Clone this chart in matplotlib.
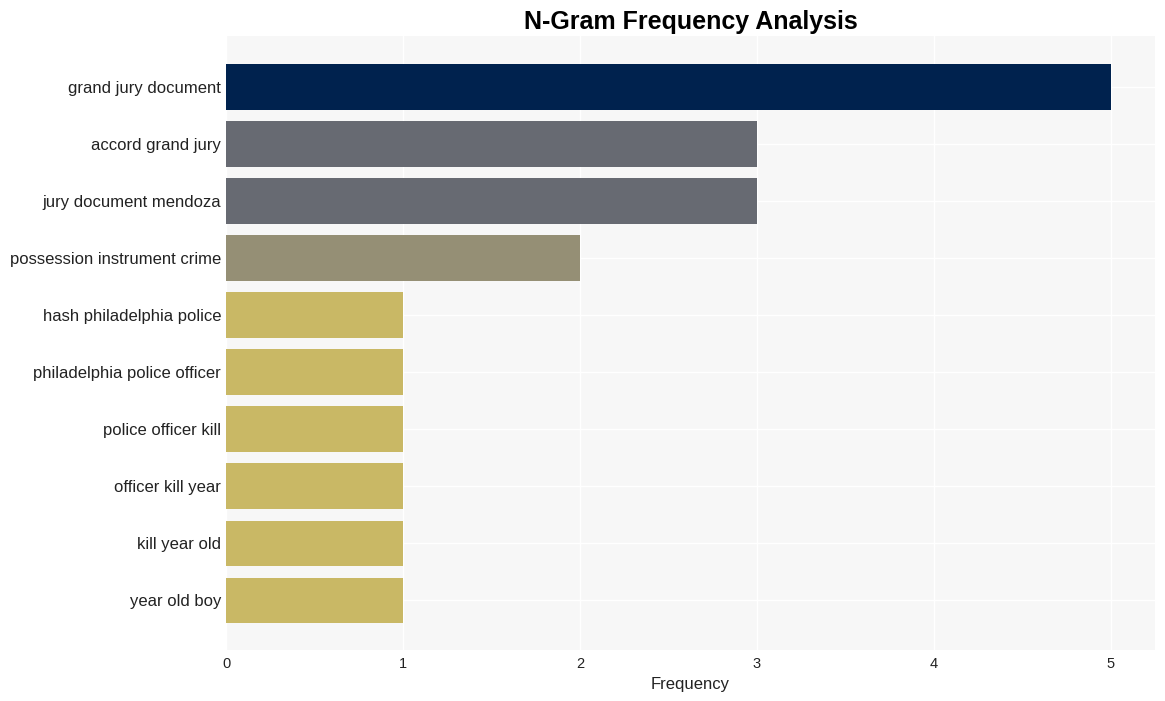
import matplotlib
matplotlib.use("Agg")
import matplotlib.pyplot as plt

ngrams = ["grand jury document", "accord grand jury", "jury document mendoza",
          "possession instrument crime", "hash philadelphia police",
          "philadelphia police officer", "police officer kill",
          "officer kill year", "kill year old", "year old boy"]
counts = [5, 3, 3, 2, 1, 1, 1, 1, 1, 1]
colors = ["#00224e", "#676a72", "#676a72", "#958f75", "#c9b865",
          "#c9b865", "#c9b865", "#c9b865", "#c9b865", "#c9b865"]

plt.rcParams['font.family'] = ['Liberation Sans', 'DejaVu Sans']

fig = plt.figure(figsize=(11.65, 7.01), dpi=100)
ax = fig.add_axes([0.194, 0.0727, 0.7974, 0.8759])
ax.set_facecolor("#f7f7f7")
ax.set_axisbelow(True)
ax.grid(True, color="white", linewidth=1)

y = list(range(len(ngrams)))
ax.barh(y, counts, height=0.8, color=colors)
ax.set_yticks(y)
ax.set_yticklabels(ngrams, fontsize=12, color="#222222")
ax.set_ylim(9.87, -0.89)
ax.set_xlim(0, 5.25)
ax.set_xticks([0, 1, 2, 3, 4, 5])
ax.tick_params(axis="x", labelsize=10.5, colors="#222222", length=0, pad=5)
ax.tick_params(axis="y", length=0, pad=3.5)
for s in ax.spines.values():
    s.set_visible(False)

ax.set_xlabel("Frequency", fontsize=12, color="#222222", labelpad=4)
ax.set_title("N-Gram Frequency Analysis", fontsize=18, fontweight="bold", pad=5)

fig.savefig("out.png", dpi=100)
